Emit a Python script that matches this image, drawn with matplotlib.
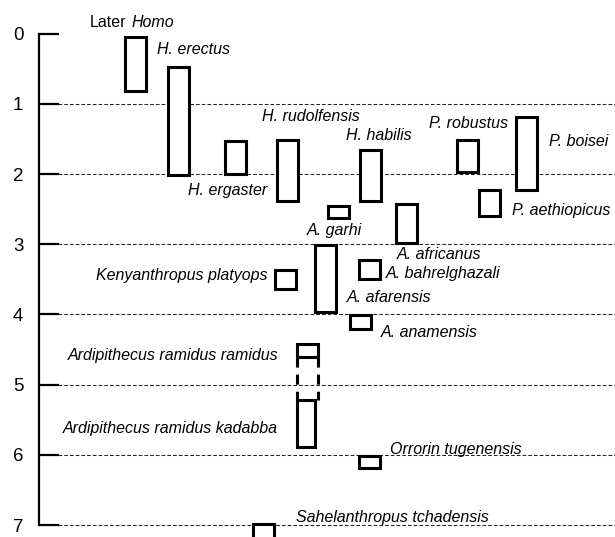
import matplotlib
matplotlib.use("Agg")
import matplotlib.pyplot as plt
from matplotlib.patches import Rectangle

plt.rcParams["font.family"] = ["Liberation Sans", "DejaVu Sans"]

# time ranges (million years ago) and column centres for each taxon
species = ["Later Homo", "H. erectus", "H. ergaster", "H. rudolfensis", "H. habilis",
           "A. garhi", "A. africanus", "P. robustus", "P. boisei", "P. aethiopicus",
           "Kenyanthropus platyops", "A. afarensis", "A. bahrelghazali", "A. anamensis",
           "Ardipithecus ramidus ramidus", "Ardipithecus ramidus kadabba",
           "Orrorin tugenensis", "Sahelanthropus tchadensis"]
young = [0.05, 0.48, 1.53, 1.52, 1.65, 2.46, 2.42, 1.51, 1.18, 2.22,
         3.36, 3.01, 3.22, 4.01, 4.42, 5.22, 6.01, 6.99]
old = [0.81, 2.02, 2.00, 2.38, 2.38, 2.62, 2.98, 1.97, 2.22, 2.60,
       3.64, 3.96, 3.49, 4.21, 4.61, 5.89, 6.18, 7.30]
column = [135, 178, 235, 287, 370, 338, 406.5, 467, 526.5, 489,
          285.5, 325, 369.5, 360.5, 307, 305.5, 369.5, 263]
box_w = [21, 21, 21, 21, 21, 21, 21, 21, 21, 21,
         21, 21, 21, 21, 21, 18, 21, 21]
# uncertain extension of A. r. ramidus (dashed)
ramidus_ext = 5.22

# label anchors (x, y, ha)
labels = {
    "H. erectus": (157, 0.23, "left"),
    "H. ergaster": (267, 2.24, "right"),
    "H. rudolfensis": (262, 1.18, "left"),
    "H. habilis": (346, 1.45, "left"),
    "A. garhi": (307, 2.80, "left"),
    "A. africanus": (397, 3.15, "left"),
    "P. robustus": (429, 1.28, "left"),
    "P. boisei": (549, 1.54, "left"),
    "P. aethiopicus": (512, 2.52, "left"),
    "Kenyanthropus platyops": (267, 3.45, "right"),
    "A. afarensis": (347, 3.76, "left"),
    "A. bahrelghazali": (386, 3.41, "left"),
    "A. anamensis": (381, 4.26, "left"),
    "Ardipithecus ramidus ramidus": (278, 4.58, "right"),
    "Ardipithecus ramidus kadabba": (278, 5.62, "right"),
    "Orrorin tugenensis": (390, 5.92, "left"),
    "Sahelanthropus tchadensis": (296, 6.89, "left"),
}

fig = plt.figure(figsize=(6.15, 5.37), dpi=100)
ax = fig.add_axes([0, 0, 1, 1])
ax.set_xlim(0, 615)
ax.set_ylim(7.17, -0.48)
ax.patch.set_visible(False)

# dashed guide lines
for y in range(1, 8):
    ax.plot([58, 615], [y, y], color="#222222", lw=0.75, ls=(0, (3.5, 2)), zorder=1)

for name, y0, y1, xc, w in zip(species, young, old, column, box_w):
    rect = Rectangle((xc - w / 2, y0), w, y1 - y0, fill=True, facecolor="white",
                     edgecolor="black", lw=2.2, zorder=3)
    ax.add_patch(rect)
    if name == "Ardipithecus ramidus ramidus":
        for xe in (xc - w / 2, xc + w / 2):
            ax.plot([xe, xe], [y1, ramidus_ext], color="black", lw=2.2,
                    ls=(0, (3.3, 2.3)), zorder=3, solid_capstyle="butt")

for name, (x, y, ha) in labels.items():
    ax.text(x, y, name, style="italic", fontsize=11.5, ha=ha, va="center", zorder=4)

ax.text(90, -0.16, "Later", fontsize=11.5, ha="left", va="center")
ax.text(131, -0.16, "Homo", fontsize=11.5, style="italic", ha="left", va="center")

# axis
for s in ["top", "right", "bottom"]:
    ax.spines[s].set_visible(False)
ax.spines["left"].set_position(("data", 38.7))
ax.spines["left"].set_bounds(0, 7)
ax.spines["left"].set_linewidth(1.6)
ax.set_xticks([])
ax.set_yticks(range(8))
ax.tick_params(axis="y", direction="in", length=14.4, width=1.6, labelsize=13.5, pad=11)

plt.savefig("out.png", dpi=100)
